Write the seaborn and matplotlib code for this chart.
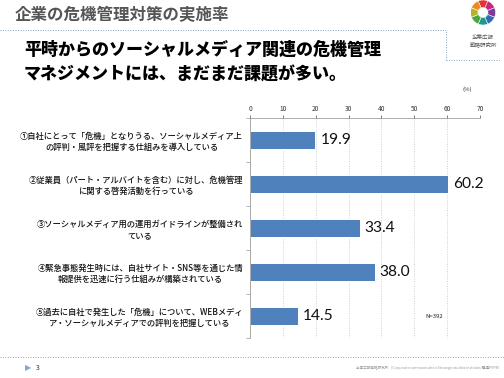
import matplotlib
matplotlib.use("Agg")
import matplotlib.pyplot as plt
import matplotlib.patches as mpatches
from matplotlib.lines import Line2D
import seaborn as sns
import pandas as pd

# chart data
categories = [
    "①自社にとって「危機」となりうる、ソーシャルメディア上\nの評判・風評を把握する仕組みを導入している",
    "②従業員（パート・アルバイトを含む）に対し、危機管理\nに関する啓発活動を行っている",
    "③ソーシャルメディア用の運用ガイドラインが整備され\nている",
    "④緊急事態発生時には、自社サイト・SNS等を通じた情\n報提供を迅速に行う仕組みが構築されている",
    "⑤過去に自社で発生した「危機」について、WEBメディ\nア・ソーシャルメディアでの評判を把握している",
]
values = [19.9, 60.2, 33.4, 38.0, 14.5]
x_ticks = [0, 10, 20, 30, 40, 50, 60, 70]

title = "企業の危機管理対策の実施率"
subtitle = "平時からのソーシャルメディア関連の危機管理\nマネジメントには、まだまだ課題が多い。"
sample_note = "N=392"
unit_note = "(%)"
page_no = "3"
footer = "企業広報戦略研究所（Corporate communication Strategic studies Institute/電通PRPR）"
logo_text = "企業広報\n戦略研究所"
logo_colors = ["#e5322d", "#c8267f", "#7b3b96", "#2e6db4",
               "#1f9a8a", "#4aa83c", "#b5b52a", "#ee8a1f"]

W, H = 504, 378
BAR = "#4F81BD"


def fx(x):
    return x / W


def fy(y):
    return 1 - y / H


sns.set_theme(style="white")
plt.rcParams["font.family"] = ["Noto Sans CJK JP", "DejaVu Sans"]

fig = plt.figure(figsize=(W / 72, H / 72), dpi=72)
fig.patch.set_facecolor("white")

ax = fig.add_axes([fx(250), fy(338), fx(480) - fx(250), fy(118) - fy(338)])
df = pd.DataFrame({"item": categories, "pct": values})
sns.barplot(data=df, x="pct", y="item", orient="h", color=BAR,
            width=0.4, saturation=1, ax=ax)

ax.set_xlim(0, 70)
ax.set_ylim(4.5, -0.5)
ax.set_xticks(x_ticks)
ax.xaxis.tick_top()
ax.tick_params(axis="x", labelsize=6.5, length=3, width=0.6, pad=2,
               colors="#333333", top=True, bottom=False, direction="out")
ax.set_xlabel("")
ax.set_ylabel("")
ax.grid(axis="x", color="#c0c0c0", linestyle=(0, (1.5, 2)), linewidth=0.7)
ax.set_axisbelow(True)

# category labels, centred lines, right aligned block
ax.set_yticks(range(len(categories)))
ax.set_yticklabels(categories, fontsize=8.3, fontweight="medium",
                   multialignment="center", linespacing=1.3, color="#111111")
ax.tick_params(axis="y", which="major", length=0, pad=7, left=False)
ax.set_yticks([i + 0.5 for i in range(-1, len(categories))], minor=True)
ax.tick_params(axis="y", which="minor", length=4, width=0.6,
               color="#888888", left=True, direction="out")

for side in ["bottom", "right"]:
    ax.spines[side].set_visible(False)
for side in ["left", "top"]:
    ax.spines[side].set_color("#999999")
    ax.spines[side].set_linewidth(0.8)

ax.bar_label(ax.containers[0], fmt="%.1f", padding=5, fontsize=15.5,
             family=["Lato", "DejaVu Sans"], color="#111111")

ax.text(56, 4, sample_note, fontsize=6, ha="center", va="center",
        color="#222222")
fig.text(fx(467), fy(89), unit_note, fontsize=6, ha="center", va="center",
         color="#333333")

# header
fig.text(fx(15), fy(15), title, fontsize=16.5, fontweight="bold",
         color="#555555", ha="left", va="center")
fig.text(fx(24), fy(62), subtitle, fontsize=17, fontweight="black",
         color="#000000", ha="left", va="center", linespacing=1.45)

dot = dict(color="#8fa9c9", linestyle=(0, (1, 1.5)), linewidth=1,
           transform=fig.transFigure)
fig.add_artist(Line2D([0, fx(446), fx(446)], [fy(30), fy(30), fy(60)], **dot))
fig.add_artist(Line2D([fx(446), fx(500)], [fy(60), fy(60)], **dot))
fig.add_artist(Line2D([0, 1], [fy(357), fy(357)], **dot))

# logo ring
lax = fig.add_axes([fx(470), fy(25), fx(496) - fx(470), fy(0) - fy(25)])
lax.set_xlim(-1, 1)
lax.set_ylim(-1, 1)
lax.set_aspect("equal")
lax.axis("off")
for i, c in enumerate(logo_colors):
    start = 90 - 22.5 - 45 * i
    lax.add_patch(mpatches.Wedge((0, 0), 1, start, start + 45, width=0.6,
                                 facecolor=c, edgecolor="white", linewidth=0.5))
fig.text(fx(483), fy(41), logo_text, fontsize=5.5, ha="center", va="center",
         color="#555555", linespacing=1.4)

# footer
fig.text(fx(28), fy(368), "▶", fontsize=8, color="#7fa7d0", ha="center",
         va="center", family="DejaVu Sans")
fig.text(fx(38), fy(368), page_no, fontsize=7, color="#333333", ha="center",
         va="center")
fig.text(fx(502), fy(368), footer, fontsize=3.6, color="#999999", ha="right",
         va="center")

fig.savefig("out.png", dpi=72, facecolor="white")
